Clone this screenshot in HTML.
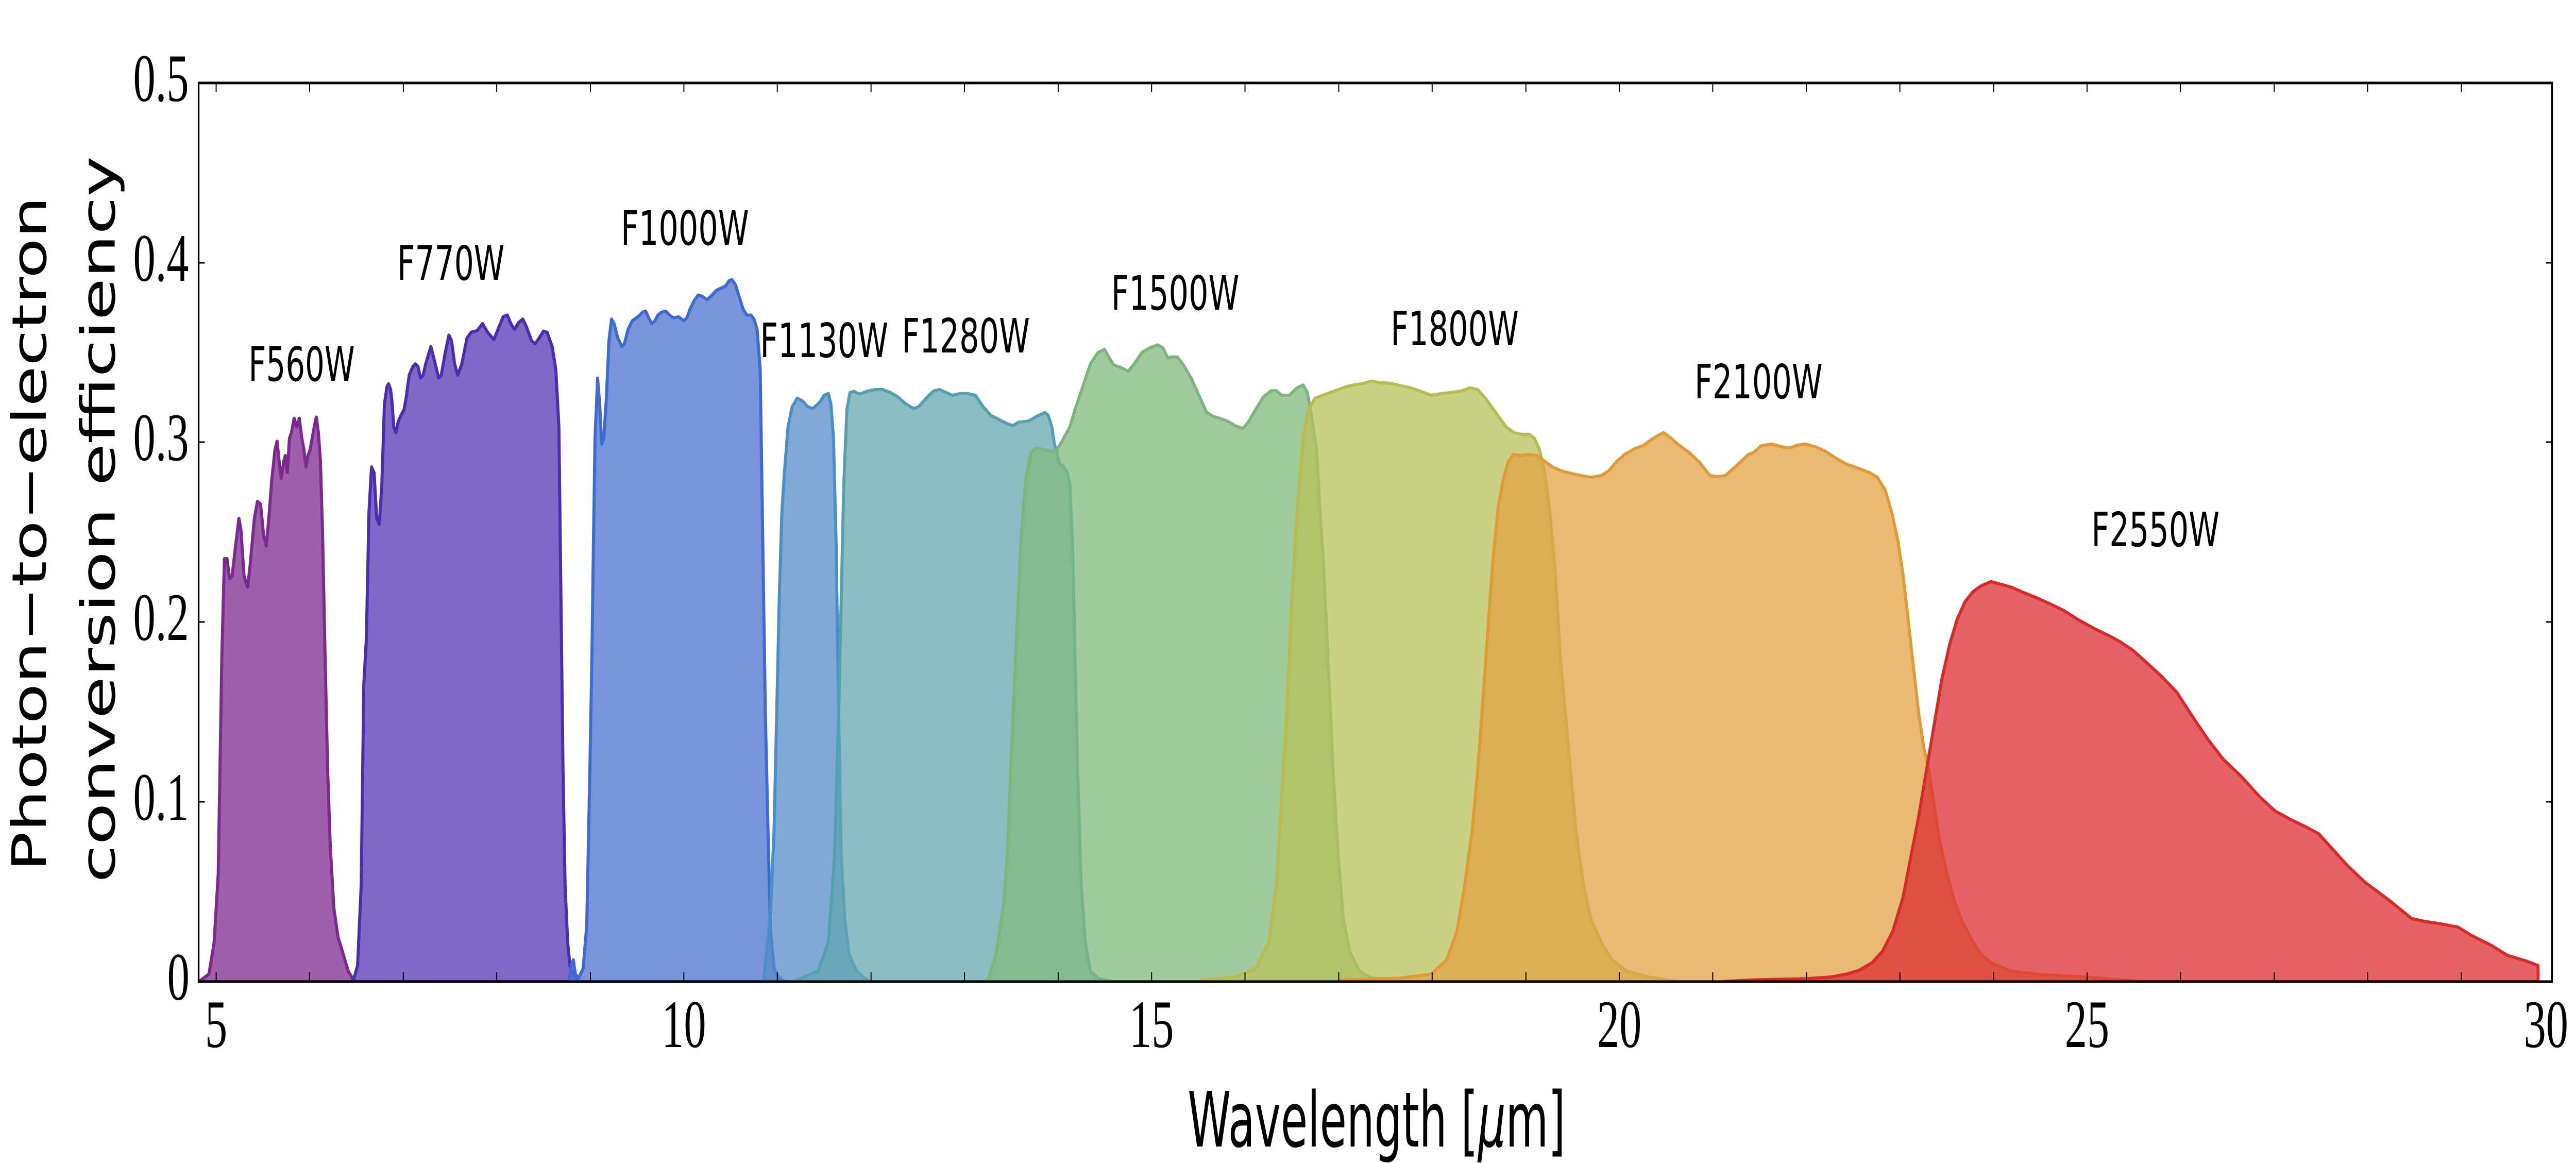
<!DOCTYPE html>
<html><head><meta charset="utf-8"><style>
html,body{margin:0;padding:0;background:#fff;width:100%;height:100%;overflow:hidden;}
svg{display:block;position:absolute;left:0;top:0;width:100vw;height:100vh;}
</style></head><body>
<svg viewBox="0 0 7639 2257" preserveAspectRatio="none" xmlns="http://www.w3.org/2000/svg">
<defs><clipPath id="c"><rect x="589" y="161" width="6979" height="1744"/></clipPath></defs>
<g clip-path="url(#c)">
<g transform="translate(589,161) scale(1.5306,1.1122)" stroke-linejoin="round" fill-opacity="0.75">
<path fill="rgb(127,42,143)" stroke="#7b2a8f" stroke-width="6" vector-effect="non-scaling-stroke" d="M0,1568 L5,1565 20,1555 30,1500 38,1380 45,1000 50,830 55,830 60,865 65,860 70,820 78,760 82,780 88,860 95,880 100,840 108,760 114,730 120,735 126,790 131,808 136,760 142,690 148,640 152,625 156,660 160,690 165,660 168,650 172,680 176,620 180,610 185,585 190,600 195,585 200,620 204,640 208,670 212,650 216,640 220,620 224,600 228,583 232,610 236,660 240,780 245,1000 250,1200 255,1330 262,1440 270,1490 280,1520 290,1550 300,1565 305,1568 Z"/>
<path fill="rgb(86,54,179)" stroke="#4b2db0" stroke-width="6" vector-effect="non-scaling-stroke" d="M296,1568 L300,1565 308,1540 315,1400 320,1050 325,970 330,750 335,670 340,680 345,760 350,770 355,700 360,560 365,530 368,525 372,535 375,560 378,600 382,610 387,590 392,580 398,570 402,550 408,510 415,495 420,490 425,495 430,515 435,510 440,490 450,460 457,485 465,515 470,510 478,470 485,440 490,450 496,490 502,510 510,490 520,445 528,435 540,432 550,420 560,435 572,448 580,430 590,408 598,405 605,420 612,430 620,418 628,412 635,425 645,450 652,455 660,445 668,433 675,435 685,460 692,500 698,600 702,900 706,1200 710,1400 715,1500 720,1545 730,1560 736,1568 Z"/>
<path fill="rgb(78,112,206)" stroke="#3f6ad6" stroke-width="6" vector-effect="non-scaling-stroke" d="M716,1568 L718,1565 722,1540 726,1530 730,1555 736,1562 745,1545 752,1470 758,1200 762,1000 765,800 768,620 773,515 777,560 781,630 785,620 790,550 795,450 800,412 805,420 812,445 820,460 825,455 832,430 840,415 848,410 855,405 860,400 866,398 872,410 878,420 884,415 890,405 897,400 905,398 912,405 920,410 930,408 940,415 946,410 952,395 960,380 968,370 975,372 985,378 995,370 1003,362 1012,358 1020,355 1028,345 1033,343 1040,352 1048,375 1055,395 1062,405 1070,405 1076,412 1082,430 1088,500 1093,800 1098,1100 1103,1300 1108,1480 1115,1545 1125,1562 1135,1568 Z"/>
<path fill="rgb(85,140,200)" stroke="#4a8ecb" stroke-width="6" vector-effect="non-scaling-stroke" d="M1090,1568 L1095,1565 1108,1450 1115,1300 1120,1100 1125,900 1130,750 1135,680 1142,600 1150,565 1160,550 1170,555 1180,565 1190,568 1198,562 1205,555 1212,545 1220,542 1225,560 1230,620 1235,800 1240,1100 1245,1350 1252,1460 1260,1520 1275,1550 1290,1562 1300,1568 Z"/>
<path fill="rgb(100,167,175)" stroke="#55a0b0" stroke-width="6" vector-effect="non-scaling-stroke" d="M1150,1568 L1160,1565 1200,1550 1220,1500 1232,1350 1240,1100 1245,900 1250,700 1256,570 1262,540 1270,538 1280,543 1295,538 1310,535 1325,535 1340,540 1355,548 1370,560 1385,568 1395,565 1405,555 1415,545 1425,537 1435,535 1448,540 1460,545 1475,542 1490,542 1505,545 1520,565 1535,580 1550,587 1568,595 1578,598 1588,592 1608,590 1623,582 1633,578 1640,575 1646,580 1653,600 1658,630 1663,645 1668,665 1675,668 1683,680 1688,700 1693,800 1698,1000 1703,1200 1710,1400 1718,1500 1728,1550 1743,1562 1768,1568 Z"/>
<path fill="rgb(128,186,126)" stroke="#7db57d" stroke-width="6" vector-effect="non-scaling-stroke" d="M1520,1568 L1530,1565 1545,1520 1560,1430 1568,1330 1573,1200 1583,1000 1593,800 1603,690 1613,645 1623,637 1638,640 1653,643 1663,640 1673,625 1688,600 1698,570 1713,530 1728,490 1743,470 1755,465 1763,478 1773,492 1788,497 1801,503 1813,490 1828,470 1843,462 1858,457 1868,462 1878,480 1886,478 1896,478 1908,492 1923,515 1938,545 1953,575 1966,582 1978,585 1993,590 2008,598 2023,603 2033,593 2048,570 2063,548 2078,537 2088,537 2098,545 2113,545 2128,532 2140,527 2148,540 2156,580 2166,640 2173,750 2180,850 2188,1000 2198,1200 2208,1350 2218,1460 2230,1515 2248,1548 2268,1560 2308,1568 Z"/>
<g transform="translate(1568,0)">
<path fill="rgb(183,194,91)" stroke="#b6bc4e" stroke-width="6" vector-effect="non-scaling-stroke" d="M370,1568 L380,1565 440,1560 480,1545 505,1500 520,1400 530,1250 540,1100 550,900 560,750 572,620 582,570 595,550 610,545 625,540 640,535 655,530 670,527 690,524 705,520 720,523 740,524 760,528 780,532 800,538 820,545 840,542 860,540 880,537 895,532 910,535 925,550 945,575 965,600 980,610 995,613 1010,613 1020,620 1030,640 1040,680 1050,750 1060,850 1070,1000 1085,1150 1100,1300 1115,1400 1130,1460 1150,1500 1170,1530 1200,1550 1240,1560 1300,1568 Z"/>
<path fill="rgb(224,163,68)" stroke="#e19a37" stroke-width="6" vector-effect="non-scaling-stroke" d="M640,1568 L650,1565 760,1562 820,1555 850,1530 870,1480 885,1400 900,1300 910,1200 920,1080 930,950 940,830 950,740 960,690 970,660 980,648 995,650 1010,648 1025,650 1040,660 1055,670 1070,676 1085,680 1100,683 1115,686 1130,688 1150,685 1165,676 1180,660 1195,648 1215,638 1230,633 1250,620 1270,610 1285,620 1300,632 1320,645 1340,662 1360,685 1375,687 1390,685 1400,677 1415,665 1435,648 1444.5,645 1459.5,633 1479.5,630 1499.5,635 1514.5,637 1529.5,632 1544.5,630 1564.5,635 1584.5,643 1604.5,655 1624.5,665 1649.5,673 1669.5,680 1684.5,688 1699.5,710 1712.5,750 1724.5,800 1734.5,860 1744.5,940 1754.5,1020 1764.5,1100 1774.5,1160 1784.5,1200 1794.5,1260 1804.5,1320 1819.5,1380 1834.5,1430 1849.5,1465 1864.5,1490 1884.5,1520 1904.5,1535 1944.5,1550 2004.5,1556 2084.5,1560 2204.5,1568 Z"/>
</g>
<g transform="translate(3012.5,0)">
<path fill="rgb(220,47,51)" stroke="#d92a2a" stroke-width="6" vector-effect="non-scaling-stroke" d="M-60,1568 L0,1565 100,1563 150,1560 180,1555 205,1548 230,1535 250,1515 270,1480 290,1420 305,1350 320,1280 335,1200 350,1120 365,1040 380,980 395,935 410,905 425,888 440,878 460,870 480,875 500,880 520,888 545,897 570,907 600,920 630,937 660,952 690,965 710,975 735,990 760,1010 790,1035 820,1063 850,1105 880,1145 910,1180 945,1210 980,1245 1010,1270 1040,1285 1070,1298 1095,1310 1120,1335 1150,1365 1185,1395 1230,1425 1275,1458 1300,1463 1330,1467 1365,1473 1390,1487 1430,1505 1460,1522 1500,1533 1520,1540 1520,1568 Z"/>
</g>
</g>
</g>
<rect x="589" y="161" width="6979" height="1744" fill="none" stroke="#000" stroke-width="5"/>
<g stroke="#000" stroke-width="3">
<path d="M641,1905v-18M918,1905v-18M1196,1905v-18M1473,1905v-18M1751,1905v-18M2028,1905v-18M2305,1905v-18M2583,1905v-18M2860,1905v-18M3138,1905v-18M3415,1905v-18M3692,1905v-18M3970,1905v-18M4247,1905v-18M4525,1905v-18M4802,1905v-18M5079,1905v-18M5357,1905v-18M5634,1905v-18M5912,1905v-18M6189,1905v-18M6466,1905v-18M6744,1905v-18M7021,1905v-18M7299,1905v-18"/>
<path d="M641,161v18M918,161v18M1196,161v18M1473,161v18M1751,161v18M2028,161v18M2305,161v18M2583,161v18M2860,161v18M3138,161v18M3415,161v18M3692,161v18M3970,161v18M4247,161v18M4525,161v18M4802,161v18M5079,161v18M5357,161v18M5634,161v18M5912,161v18M6189,161v18M6466,161v18M6744,161v18M7021,161v18M7299,161v18"/>
<path d="M589,1556h18M589,1207h18M589,858h18M589,510h18M7568,1556h-18M7568,1207h-18M7568,858h-18M7568,510h-18"/>
</g>
<g font-family="'Liberation Serif','Times New Roman',serif" font-size="132" fill="#000">
<g text-anchor="middle">
<text x="641" y="2032">5</text>
<text x="2028" y="2032">10</text>
<text x="3415" y="2032">15</text>
<text x="4802" y="2032">20</text>
<text x="6189" y="2032">25</text>
<text x="7550" y="2032">30</text>
</g>
<g text-anchor="end">
<text x="562" y="1940">0</text>
<text x="560" y="1591">0.1</text>
<text x="560" y="1242">0.2</text>
<text x="560" y="893">0.3</text>
<text x="560" y="545">0.4</text>
<text x="560" y="196">0.5</text>
</g>
</g>
<g font-family="'DejaVu Sans','Liberation Sans',sans-serif" fill="#000">
<g font-size="92">
<text x="737" y="739" textLength="315" lengthAdjust="spacingAndGlyphs">F560W</text>
<text x="1178" y="543" textLength="318" lengthAdjust="spacingAndGlyphs">F770W</text>
<text x="1841" y="475" textLength="380" lengthAdjust="spacingAndGlyphs">F1000W</text>
<text x="2254" y="693" textLength="380" lengthAdjust="spacingAndGlyphs">F1130W</text>
<text x="2674" y="684" textLength="380" lengthAdjust="spacingAndGlyphs">F1280W</text>
<text x="3295" y="601" textLength="380" lengthAdjust="spacingAndGlyphs">F1500W</text>
<text x="4124" y="670" textLength="380" lengthAdjust="spacingAndGlyphs">F1800W</text>
<text x="5025" y="773" textLength="380" lengthAdjust="spacingAndGlyphs">F2100W</text>
<text x="6202" y="1060" textLength="380" lengthAdjust="spacingAndGlyphs">F2550W</text>
</g>
<text x="3522" y="2225" font-size="148" textLength="1120" lengthAdjust="spacingAndGlyphs">Wavelength [<tspan font-style="italic">μ</tspan>m]</text>
<text transform="translate(136,1036) rotate(-90)" text-anchor="middle" font-size="140" textLength="1310" lengthAdjust="spacingAndGlyphs">Photon−to−electron</text>
<text transform="translate(340,1008) rotate(-90)" text-anchor="middle" font-size="140" textLength="1410" lengthAdjust="spacingAndGlyphs">conversion efficiency</text>
</g>
</svg>
</body></html>
